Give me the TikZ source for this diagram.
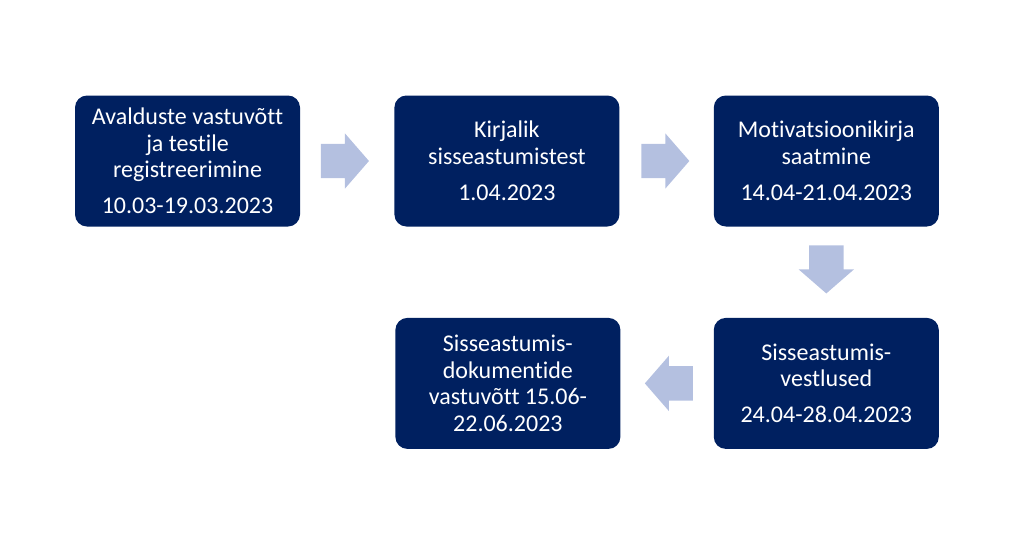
\documentclass[tikz,border=0pt]{standalone}
\usepackage{fontspec}
\setmainfont{Carlito}[Ligatures=NoCommon]
\usetikzlibrary{positioning,calc,shapes.arrows}
\definecolor{tumesinine}{HTML}{002060}
\definecolor{helesinine}{HTML}{B4C0E0}
\begin{document}
\begin{tikzpicture}[x=1pt,y=-1pt,font=\fontsize{24}{26.4}\selectfont,
	etapp/.style={fill=tumesinine,text=white,rounded corners=12pt,minimum width=225pt,minimum height=131pt,align=center,inner sep=0pt},
	nool/.style={single arrow,fill=helesinine,anchor=tip,minimum height=48pt,inner xsep=0pt,inner ysep=17pt,text height=0pt,text depth=0pt,single arrow head extend=10.5pt,single arrow tip angle=98}]
	%%Raam
	\useasboundingbox (0,0) rectangle (1025,536);
	%%Etapid
	\node[etapp] (avaldus) at (187.5,161) {Avalduste vastuvõtt\\ja testile\\registreerimine\\[10pt]10.03-19.03.2023};
	\node[etapp,right=94pt of avaldus] (test) {Kirjalik\\sisseastumistest\\[10pt]1.04.2023};
	\node[etapp,right=94pt of test] (motivatsioon) {Motivatsioonikirja\\saatmine\\[10pt]14.04-21.04.2023};
	\node[etapp,below=91pt of motivatsioon] (vestlus) {Sisseastumis-\\vestlused\\[10pt]24.04-28.04.2023};
	\node[etapp,left=93pt of vestlus] (dokumendid) {Sisseastumis-\\dokumentide\\vastuvõtt 15.06-\\22.06.2023};
	%%Nooled
	\node[nool] (n1) at ($(test.west)+(-25,0)$) {};
	\node[nool] (n2) at ($(motivatsioon.west)+(-24,0)$) {};
	\node[nool,rotate=-90] (n3) at ($(vestlus.north)+(0,-24)$) {};
	\node[nool,rotate=180] (n4) at ($(dokumendid.east)+(24,0)$) {};
\end{tikzpicture}
\end{document}
